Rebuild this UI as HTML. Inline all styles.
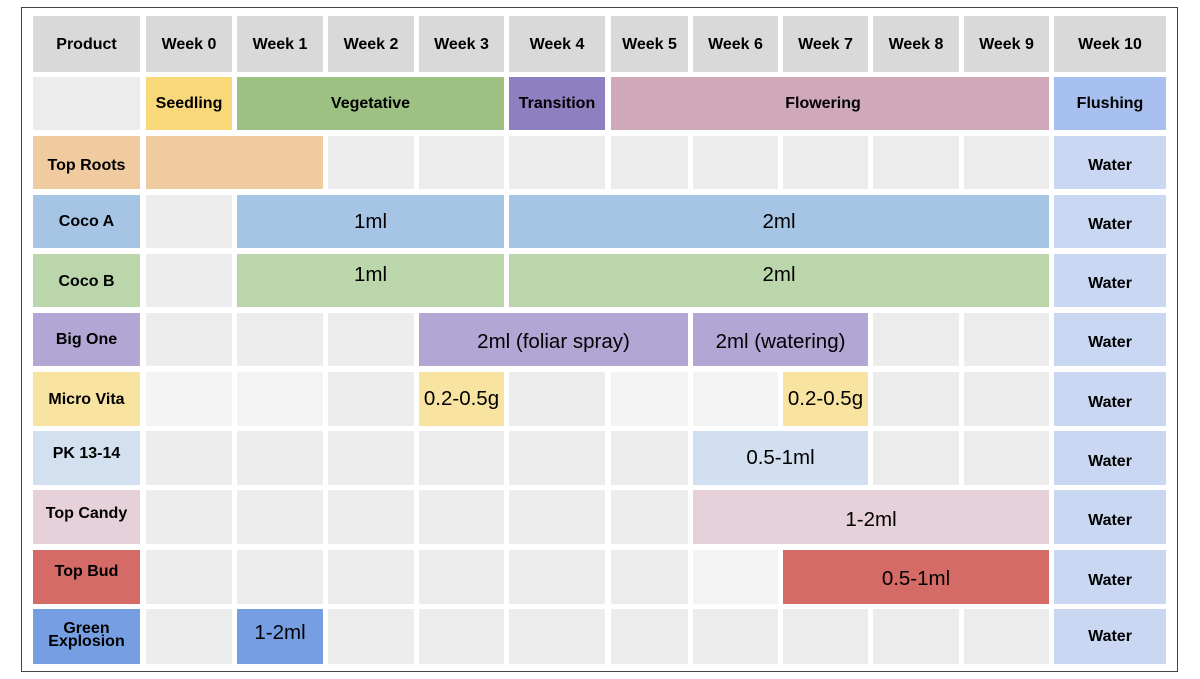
<!DOCTYPE html>
<html><head><meta charset="utf-8"><style>
body{margin:0;background:#fff;width:1200px;height:679px;position:relative;overflow:hidden}
.f{position:absolute;left:21px;top:7px;width:1157px;height:665px;border:1px solid #444;box-sizing:border-box}
.c{position:absolute;display:flex;align-items:center;justify-content:center;font:bold 16px "Liberation Sans",sans-serif;color:#000;background:#ececec;text-align:center;line-height:13px;box-sizing:border-box}
.v{font-weight:normal;font-size:20.5px;line-height:20px}
.h{background:#d9d9d9}
.w{background:#c9d7f3;padding-top:6px}
.l2{background:#f3f3f3}
</style></head><body>
<div class="f"></div>
<div class="c h" style="left:33px;top:16px;width:107px;height:56px">Product</div>
<div class="c h" style="left:146px;top:16px;width:86px;height:56px">Week 0</div>
<div class="c h" style="left:237px;top:16px;width:86px;height:56px">Week 1</div>
<div class="c h" style="left:328px;top:16px;width:86px;height:56px">Week 2</div>
<div class="c h" style="left:419px;top:16px;width:85px;height:56px">Week 3</div>
<div class="c h" style="left:509px;top:16px;width:96px;height:56px">Week 4</div>
<div class="c h" style="left:611px;top:16px;width:77px;height:56px">Week 5</div>
<div class="c h" style="left:693px;top:16px;width:85px;height:56px">Week 6</div>
<div class="c h" style="left:783px;top:16px;width:85px;height:56px">Week 7</div>
<div class="c h" style="left:873px;top:16px;width:86px;height:56px">Week 8</div>
<div class="c h" style="left:964px;top:16px;width:85px;height:56px">Week 9</div>
<div class="c h" style="left:1054px;top:16px;width:112px;height:56px">Week 10</div>
<div class="c" style="left:33px;top:77px;width:107px;height:53px"></div>
<div class="c" style="left:146px;top:77px;width:86px;height:53px;background:#f9d87a">Seedling</div>
<div class="c" style="left:237px;top:77px;width:267px;height:53px;background:#9dc183">Vegetative</div>
<div class="c" style="left:509px;top:77px;width:96px;height:53px;background:#8e7fc1">Transition</div>
<div class="c" style="left:611px;top:77px;width:438px;height:53px;background:#cfa8b9;padding-right:14px">Flowering</div>
<div class="c" style="left:1054px;top:77px;width:112px;height:53px;background:#a7c0ef">Flushing</div>
<div class="c" style="left:33px;top:136px;width:107px;height:53px;background:#f0cba0;padding-top:6px">Top Roots</div>
<div class="c" style="left:146px;top:136px;width:177px;height:53px;background:#f0cba0"></div>
<div class="c" style="left:328px;top:136px;width:86px;height:53px"></div>
<div class="c" style="left:419px;top:136px;width:85px;height:53px"></div>
<div class="c" style="left:509px;top:136px;width:96px;height:53px"></div>
<div class="c" style="left:611px;top:136px;width:77px;height:53px"></div>
<div class="c" style="left:693px;top:136px;width:85px;height:53px"></div>
<div class="c" style="left:783px;top:136px;width:85px;height:53px"></div>
<div class="c" style="left:873px;top:136px;width:86px;height:53px"></div>
<div class="c" style="left:964px;top:136px;width:85px;height:53px"></div>
<div class="c w" style="left:1054px;top:136px;width:112px;height:53px">Water</div>
<div class="c" style="left:33px;top:195px;width:107px;height:53px;background:#a6c4e4">Coco A</div>
<div class="c" style="left:146px;top:195px;width:86px;height:53px"></div>
<div class="c v" style="left:237px;top:195px;width:267px;height:53px;background:#a6c4e4">1ml</div>
<div class="c v" style="left:509px;top:195px;width:540px;height:53px;background:#a6c4e4">2ml</div>
<div class="c w" style="left:1054px;top:195px;width:112px;height:53px">Water</div>
<div class="c" style="left:33px;top:254px;width:107px;height:53px;background:#bcd6ab;padding-top:2px">Coco B</div>
<div class="c" style="left:146px;top:254px;width:86px;height:53px"></div>
<div class="c v" style="left:237px;top:254px;width:267px;height:53px;background:#bcd6ab;padding-bottom:12px">1ml</div>
<div class="c v" style="left:509px;top:254px;width:540px;height:53px;background:#bcd6ab;padding-bottom:12px">2ml</div>
<div class="c w" style="left:1054px;top:254px;width:112px;height:53px">Water</div>
<div class="c" style="left:33px;top:313px;width:107px;height:53px;background:#b1a6d4">Big One</div>
<div class="c" style="left:146px;top:313px;width:86px;height:53px"></div>
<div class="c" style="left:237px;top:313px;width:86px;height:53px"></div>
<div class="c" style="left:328px;top:313px;width:86px;height:53px"></div>
<div class="c v" style="left:419px;top:313px;width:269px;height:53px;background:#b1a6d4;padding-top:4px">2ml (foliar spray)</div>
<div class="c v" style="left:693px;top:313px;width:175px;height:53px;background:#b1a6d4;padding-top:4px">2ml (watering)</div>
<div class="c" style="left:873px;top:313px;width:86px;height:53px"></div>
<div class="c" style="left:964px;top:313px;width:85px;height:53px"></div>
<div class="c w" style="left:1054px;top:313px;width:112px;height:53px">Water</div>
<div class="c" style="left:33px;top:372px;width:107px;height:54px;background:#f9e3a0">Micro Vita</div>
<div class="c l2" style="left:146px;top:372px;width:86px;height:54px"></div>
<div class="c l2" style="left:237px;top:372px;width:86px;height:54px"></div>
<div class="c" style="left:328px;top:372px;width:86px;height:54px"></div>
<div class="c v" style="left:419px;top:372px;width:85px;height:54px;background:#f9e3a0">0.2-0.5g</div>
<div class="c" style="left:509px;top:372px;width:96px;height:54px"></div>
<div class="c l2" style="left:611px;top:372px;width:77px;height:54px"></div>
<div class="c l2" style="left:693px;top:372px;width:85px;height:54px"></div>
<div class="c v" style="left:783px;top:372px;width:85px;height:54px;background:#f9e3a0">0.2-0.5g</div>
<div class="c" style="left:873px;top:372px;width:86px;height:54px"></div>
<div class="c" style="left:964px;top:372px;width:85px;height:54px"></div>
<div class="c w" style="left:1054px;top:372px;width:112px;height:54px">Water</div>
<div class="c" style="left:33px;top:431px;width:107px;height:54px;background:#d3e0f0;padding-bottom:10px">PK 13-14</div>
<div class="c" style="left:146px;top:431px;width:86px;height:54px"></div>
<div class="c" style="left:237px;top:431px;width:86px;height:54px"></div>
<div class="c" style="left:328px;top:431px;width:86px;height:54px"></div>
<div class="c" style="left:419px;top:431px;width:85px;height:54px"></div>
<div class="c" style="left:509px;top:431px;width:96px;height:54px"></div>
<div class="c" style="left:611px;top:431px;width:77px;height:54px"></div>
<div class="c v" style="left:693px;top:431px;width:175px;height:54px;background:#d1dff0">0.5-1ml</div>
<div class="c" style="left:873px;top:431px;width:86px;height:54px"></div>
<div class="c" style="left:964px;top:431px;width:85px;height:54px"></div>
<div class="c w" style="left:1054px;top:431px;width:112px;height:54px">Water</div>
<div class="c" style="left:33px;top:490px;width:107px;height:54px;background:#e6d0d9;padding-bottom:8px">Top Candy</div>
<div class="c" style="left:146px;top:490px;width:86px;height:54px"></div>
<div class="c" style="left:237px;top:490px;width:86px;height:54px"></div>
<div class="c" style="left:328px;top:490px;width:86px;height:54px"></div>
<div class="c" style="left:419px;top:490px;width:85px;height:54px"></div>
<div class="c" style="left:509px;top:490px;width:96px;height:54px"></div>
<div class="c" style="left:611px;top:490px;width:77px;height:54px"></div>
<div class="c v" style="left:693px;top:490px;width:356px;height:54px;background:#e6d0d9;padding-top:6px">1-2ml</div>
<div class="c w" style="left:1054px;top:490px;width:112px;height:54px">Water</div>
<div class="c" style="left:33px;top:550px;width:107px;height:54px;background:#d46b66;padding-bottom:12px">Top Bud</div>
<div class="c" style="left:146px;top:550px;width:86px;height:54px"></div>
<div class="c" style="left:237px;top:550px;width:86px;height:54px"></div>
<div class="c" style="left:328px;top:550px;width:86px;height:54px"></div>
<div class="c" style="left:419px;top:550px;width:85px;height:54px"></div>
<div class="c" style="left:509px;top:550px;width:96px;height:54px"></div>
<div class="c" style="left:611px;top:550px;width:77px;height:54px"></div>
<div class="c l2" style="left:693px;top:550px;width:85px;height:54px"></div>
<div class="c v" style="left:783px;top:550px;width:266px;height:54px;background:#d46b66;padding-top:4px">0.5-1ml</div>
<div class="c w" style="left:1054px;top:550px;width:112px;height:54px">Water</div>
<div class="c" style="left:33px;top:609px;width:107px;height:55px;background:#769ee3;padding-bottom:4px">Green<br>Explosion</div>
<div class="c" style="left:146px;top:609px;width:86px;height:55px"></div>
<div class="c v" style="left:237px;top:609px;width:86px;height:55px;background:#769ee3;padding-bottom:8px">1-2ml</div>
<div class="c" style="left:328px;top:609px;width:86px;height:55px"></div>
<div class="c" style="left:419px;top:609px;width:85px;height:55px"></div>
<div class="c" style="left:509px;top:609px;width:96px;height:55px"></div>
<div class="c" style="left:611px;top:609px;width:77px;height:55px"></div>
<div class="c" style="left:693px;top:609px;width:85px;height:55px"></div>
<div class="c" style="left:783px;top:609px;width:85px;height:55px"></div>
<div class="c" style="left:873px;top:609px;width:86px;height:55px"></div>
<div class="c" style="left:964px;top:609px;width:85px;height:55px"></div>
<div class="c w" style="left:1054px;top:609px;width:112px;height:55px;padding-top:0">Water</div>
</body></html>
